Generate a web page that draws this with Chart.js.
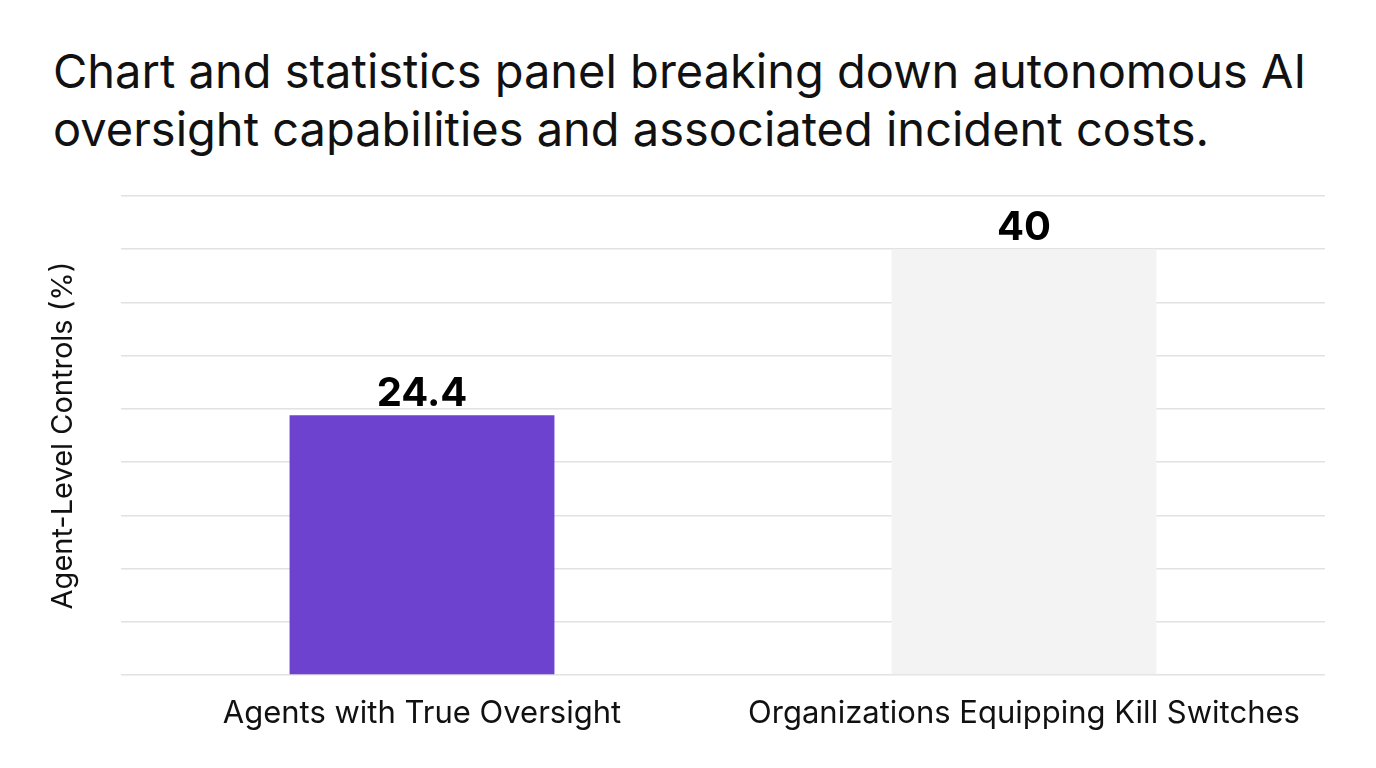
<!DOCTYPE html>
<html>
<head>
<meta charset="utf-8">
<script src="https://cdn.jsdelivr.net/npm/chart.js@4.4.1/dist/chart.umd.min.js"></script>
<style>
  html, body { margin: 0; padding: 0; background: #fff; }
  body { width: 1376px; height: 768px; position: relative; overflow: hidden; font-family: Inter, "Noto Sans", sans-serif; }
  #title { position: absolute; left: 53px; top: 42px; font-size: 47px; line-height: 58px; color: #111; font-weight: 400; letter-spacing: 0; }
  #wrap { position: absolute; left: 0; top: 0; width: 1376px; height: 768px; }
</style>
</head>
<body>
<div id="title">Chart and statistics panel breaking down autonomous AI<br>oversight capabilities and associated incident costs.</div>
<div id="wrap"><canvas id="chart"></canvas></div>
<script>
// chart data
const categories = ['Agents with True Oversight', 'Organizations Equipping Kill Switches'];
const values = [24.4, 40];
const barColors = ['#6c42cf', '#f3f3f3'];
const yTitle = 'Agent-Level Controls (%)';

// value labels above the bars
const valueLabels = {
    id: 'valueLabels',
    afterDatasetsDraw(chart) {
        const ctx = chart.ctx;
        const meta = chart.getDatasetMeta(0);
        ctx.save();
        ctx.font = 'bold 40px Inter';
        ctx.fillStyle = '#000';
        ctx.textAlign = 'center';
        ctx.textBaseline = 'alphabetic';
        meta.data.forEach(function(bar, i) {
            ctx.fillText(String(values[i]), bar.x, bar.y - 9);
        });
        ctx.restore();
    }
};

const ctx = document.getElementById('chart').getContext('2d');
const chart = new Chart(ctx, {
    type: 'bar',
    data: {
        labels: categories,
        datasets: [{
            data: values,
            backgroundColor: barColors,
            borderWidth: 0,
            barPercentage: 1,
            categoryPercentage: 0.44
        }]
    },
    options: {
        responsive: true,
        maintainAspectRatio: false,
        animation: false,
        layout: { padding: { top: 196, right: 51, bottom: 0, left: 0 } },
        plugins: {
            legend: { display: false },
            tooltip: { enabled: false }
        },
        scales: {
            x: {
                grid: { display: false },
                border: { display: false },
                ticks: { color: '#111', font: { family: 'Inter', size: 31 }, padding: 12 },
                afterFit(scale) { scale.height = 93; }
            },
            y: {
                min: 0,
                max: 45,
                ticks: { stepSize: 5, display: false },
                grid: { color: '#e2e2e2', lineWidth: 1.5, drawTicks: false },
                border: { display: false },
                title: {
                    display: true,
                    text: yTitle,
                    color: '#111',
                    font: { family: 'Inter', size: 29 },
                    padding: { top: 46, bottom: 0 }
                },
                afterFit(scale) { scale.width = 121; }
            }
        }
    },
    plugins: [valueLabels]
});
</script>
</body>
</html>
